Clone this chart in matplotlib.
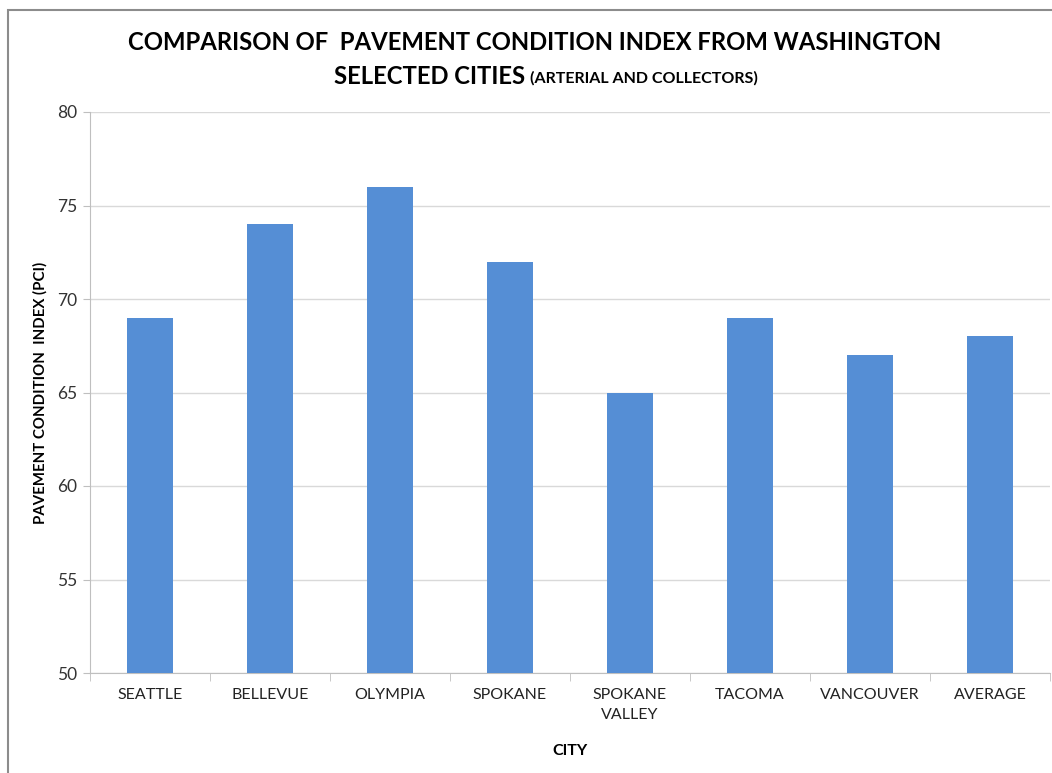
import matplotlib
matplotlib.use("Agg")
import matplotlib.pyplot as plt
from matplotlib.patches import Rectangle

cities = ["SEATTLE", "BELLEVUE", "OLYMPIA", "SPOKANE", "SPOKANE\nVALLEY",
          "TACOMA", "VANCOUVER", "AVERAGE"]
pci = [69, 74, 76, 72, 65, 69, 67, 68]
yticks = [50, 55, 60, 65, 70, 75, 80]

plt.rcParams['font.family'] = ['Lato', 'DejaVu Sans']

W, H = 1052, 773
fig = plt.figure(figsize=(W / 100, H / 100), dpi=100)
ax = fig.add_axes([90 / W, (H - 673) / H, (1050 - 90) / W, (673 - 112) / H])

x = list(range(len(cities)))
ax.bar(x, pci, width=0.39, color="#558ED5", zorder=3)
ax.set_xlim(-0.5, len(cities) - 0.5)
ax.set_ylim(50, 80)
ax.set_yticks(yticks)
ax.set_yticklabels([str(v) for v in yticks], fontsize=12.5, color="#333333")
ax.set_xticks(x)
ax.set_xticklabels(cities, fontsize=11.5, color="#222222", linespacing=1.5)
ax.tick_params(axis='x', length=0, pad=11)
ax.tick_params(axis='y', length=5, color="#BFBFBF", pad=4)
ax.set_xticks([i - 0.5 for i in range(len(cities) + 1)], minor=True)
ax.tick_params(axis='x', which='minor', length=6, color="#BFBFBF")
ax.grid(axis='y', color="#D9D9D9", linewidth=1, zorder=0)
for s in ['top', 'right']:
    ax.spines[s].set_visible(False)
for s in ['left', 'bottom']:
    ax.spines[s].set_color("#BFBFBF")

ax.set_ylabel("PAVEMENT CONDITION  INDEX (PCI)", fontsize=10.8, fontweight='bold')
ax.yaxis.set_label_coords(-42 / 960, 0.5)
ax.set_xlabel("CITY", fontsize=11.5, fontweight='bold')
ax.xaxis.set_label_coords(0.5, -(744 - 673) / 561)

fig.text(535 / W, 1 - 43 / H, "COMPARISON OF  PAVEMENT CONDITION INDEX FROM WASHINGTON",
         ha='center', va='center', fontsize=17.2, fontweight='bold')

# second title line composed of two parts, centred together
r = fig.canvas.get_renderer()
a = fig.text(0, 1 - 76 / H, "SELECTED CITIES ", ha='left', va='center',
             fontsize=17.2, fontweight='bold')
b = fig.text(0, 1 - 78 / H, "(ARTERIAL AND COLLECTORS)", ha='left', va='center',
             fontsize=11.5, fontweight='bold')
wa = a.get_window_extent(r).width
wb = b.get_window_extent(r).width
x0 = 546 - (wa + wb) / 2
a.set_x(x0 / W)
b.set_x((x0 + wa) / W)

fig.patches.append(Rectangle((8 / W, -0.05), 1.1, 1 - 10 / H + 0.05,
                             transform=fig.transFigure, fill=False,
                             edgecolor="#8C8C8C", linewidth=1.5))

fig.savefig("out.png", dpi=100)
